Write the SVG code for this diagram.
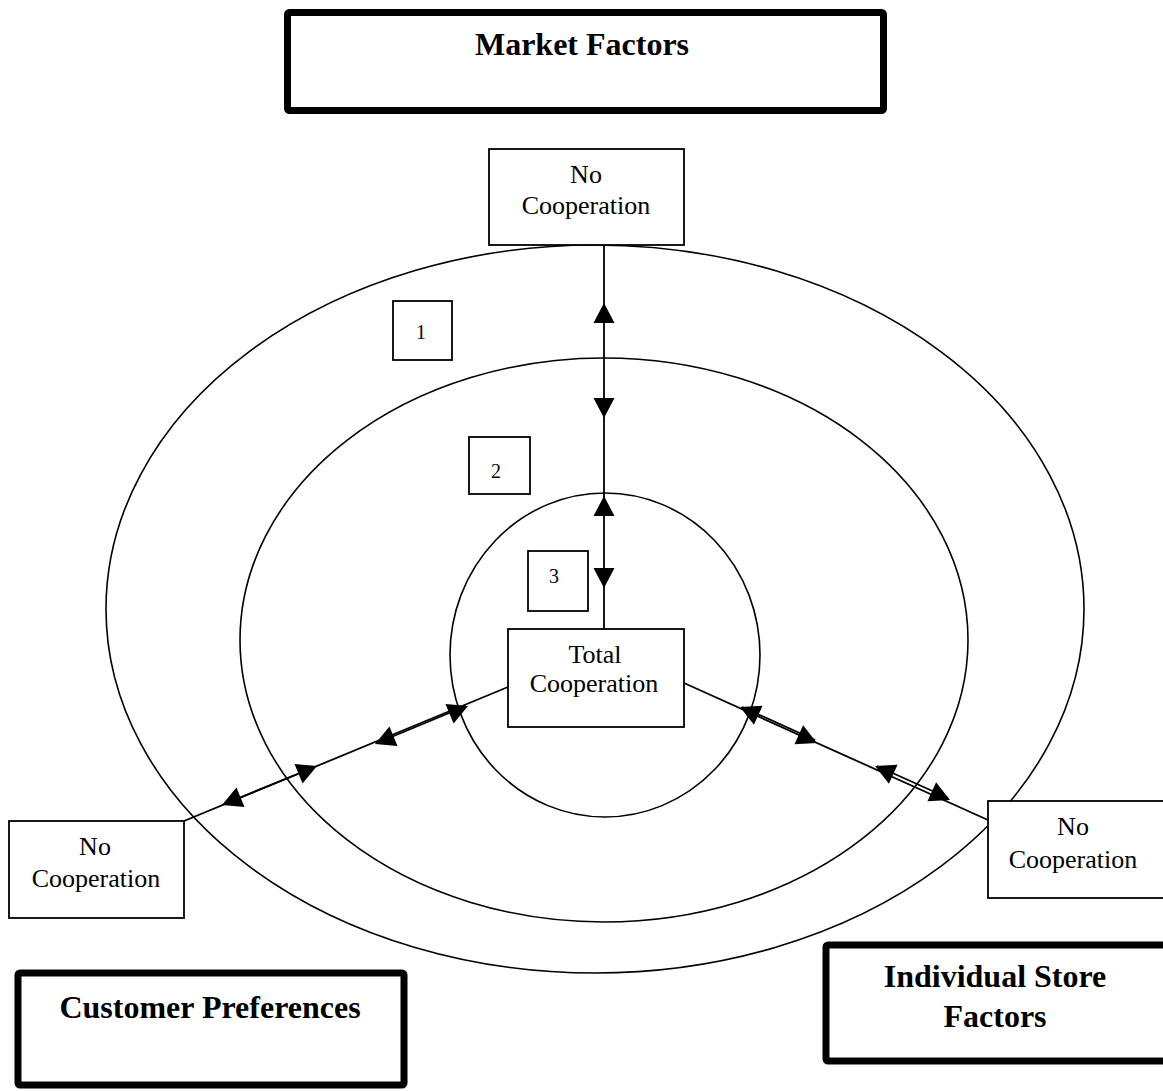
<svg xmlns="http://www.w3.org/2000/svg" width="1163" height="1091" viewBox="0 0 1163 1091">
<style>
.ring{fill:none;stroke:#000;stroke-width:1.6}
.box{fill:#fff;stroke:#000;stroke-width:1.8}
.thick{fill:#fff;stroke:#000;stroke-width:7;stroke-linejoin:round}
.t{font-family:"Liberation Serif","Times New Roman",serif;font-size:26px;fill:#000;text-anchor:middle}
.b{font-family:"Liberation Serif","Times New Roman",serif;font-size:32px;font-weight:bold;fill:#000;text-anchor:middle}
.n{font-family:"Liberation Serif","Times New Roman",serif;font-size:20px;fill:#000;text-anchor:middle}
.ln{fill:none;stroke:#000;stroke-width:1.8}
</style>
<defs>
<path id="ah" d="M0,0 L-20,-10.5 L-20,10.5 Z" fill="#000"/>
</defs>
<g id="rings">
<ellipse class="ring" cx="595" cy="609" rx="489" ry="364"/>
<ellipse class="ring" cx="604" cy="640" rx="364" ry="282"/>
<ellipse class="ring" cx="605" cy="655" rx="155" ry="162"/>
</g>
<g id="connectors">
<line class="ln" x1="604" y1="245" x2="604" y2="629"/>
<use href="#ah" transform="translate(604,303) rotate(-90)"/>
<use href="#ah" transform="translate(604,418) rotate(90)"/>
<use href="#ah" transform="translate(604,496) rotate(-90)"/>
<use href="#ah" transform="translate(604,588) rotate(90)"/>
<line class="ln" x1="508" y1="687" x2="184" y2="821"/>
<line class="ln" x1="466" y1="706" x2="377" y2="743"/>
<line class="ln" x1="315" y1="767" x2="224" y2="804"/>
<use href="#ah" transform="translate(468,706) rotate(-22.6)"/>
<use href="#ah" transform="translate(375,744) rotate(157.4)"/>
<use href="#ah" transform="translate(317,766) rotate(-22.6)"/>
<use href="#ah" transform="translate(222,805) rotate(157.4)"/>
<line class="ln" x1="684" y1="683" x2="988" y2="820"/>
<line class="ln" x1="742" y1="707" x2="815" y2="740"/>
<line class="ln" x1="877" y1="766" x2="948" y2="798"/>
<use href="#ah" transform="translate(740,707) rotate(204.3)"/>
<use href="#ah" transform="translate(817,743) rotate(24.3)"/>
<use href="#ah" transform="translate(875,766) rotate(204.3)"/>
<use href="#ah" transform="translate(950,800) rotate(24.3)"/>
</g>
<g id="market-factors">
<rect class="thick" x="287.5" y="12.5" width="596" height="98" rx="2"/>
<text class="b" x="582" y="55">Market Factors</text>
</g>
<g id="no-coop-top">
<rect class="box" x="489" y="149" width="195" height="96"/>
<text class="t" x="586" y="183">No</text>
<text class="t" x="586" y="214">Cooperation</text>
</g>
<g id="zone-1">
<rect class="box" x="393" y="301" width="59" height="59"/>
<text class="n" x="421" y="339">1</text>
</g>
<g id="zone-2">
<rect class="box" x="469" y="437" width="61" height="57"/>
<text class="n" x="496" y="478">2</text>
</g>
<g id="zone-3">
<rect class="box" x="528" y="551" width="60" height="60"/>
<text class="n" x="554" y="583">3</text>
</g>
<g id="total-coop">
<rect class="box" x="508" y="629" width="176" height="98"/>
<text class="t" x="595" y="663">Total</text>
<text class="t" x="594" y="692">Cooperation</text>
</g>
<g id="no-coop-left">
<rect class="box" x="9" y="821" width="175" height="97"/>
<text class="t" x="95" y="855">No</text>
<text class="t" x="96" y="887">Cooperation</text>
</g>
<g id="no-coop-right">
<rect class="box" x="988" y="801" width="200" height="97"/>
<text class="t" x="1073" y="835">No</text>
<text class="t" x="1073" y="868">Cooperation</text>
</g>
<g id="customer-preferences">
<rect class="thick" x="18" y="973" width="386" height="112" rx="2"/>
<text class="b" x="210" y="1018">Customer Preferences</text>
</g>
<g id="individual-store-factors">
<rect class="thick" x="826" y="945" width="360" height="116" rx="2"/>
<text class="b" x="995" y="987">Individual Store</text>
<text class="b" x="995" y="1027">Factors</text>
</g>
</svg>
